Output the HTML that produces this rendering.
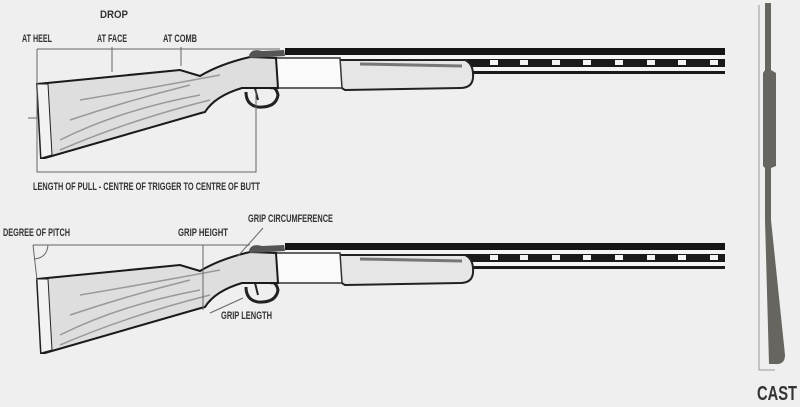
<!DOCTYPE html>
<html><head><meta charset="utf-8"><style>
html,body{margin:0;padding:0;background:#efefef;}
svg{display:block}
text{font-family:"Liberation Sans Narrow","Liberation Sans",sans-serif;font-weight:bold;fill:#333;}
</style></head><body>
<svg width="800" height="407" viewBox="0 0 800 407" xmlns="http://www.w3.org/2000/svg">
<defs>
<g id="gun">
  <rect x="285" y="48" width="440" height="7" fill="#151515"/>
  <rect x="285" y="55" width="440" height="4" fill="#f4f4f4"/>
  <rect x="285" y="59" width="440" height="8" fill="#1a1a1a"/>
  <g fill="#f4f4f4">
    <rect x="490" y="60" width="8" height="5"/><rect x="520" y="60" width="8" height="5"/><rect x="552" y="60" width="8" height="5"/>
    <rect x="583" y="60" width="8" height="5"/><rect x="615" y="60" width="8" height="5"/><rect x="647" y="60" width="8" height="5"/><rect x="678" y="60" width="8" height="5"/><rect x="710" y="60" width="8" height="5"/>
  </g>
  <rect x="285" y="67" width="440" height="4" fill="#f4f4f4"/>
  <rect x="285" y="71" width="440" height="3" fill="#1a1a1a"/>
  <path d="M337,60 L465,60 Q474,64 473,78 Q472,88 460,88 L345,90 Q337,86 337,75 Z" fill="#e6e6e6" stroke="#222" stroke-width="2"/>
  <path d="M360,64 L462,66" stroke="#777" stroke-width="3"/>
  <path d="M272,58 L340,58 L342,88 L276,88 Z" fill="#fafafa" stroke="#333" stroke-width="1.5"/>
  <path d="M246,92 Q246,105 258,107 Q276,108 278,95 Q276,86 270,88" fill="none" stroke="#222" stroke-width="3"/>
  <path d="M255,88 L258,100" stroke="#222" stroke-width="2"/>
  <path d="M37,84 L180,70 L200,76 Q220,64 250,57 L276,58 L278,88 L242,88 Q215,96 205,112 L201,113 L45,158 L41,158 Z" fill="#dedede" stroke="#1a1a1a" stroke-width="2"/>
  <path d="M37,84 L48,84 L52,155 L41,158 Z" fill="#f2f2f2" stroke="#222" stroke-width="1"/>
  <path d="M60,140 Q120,110 200,95 M70,120 Q130,100 190,85 M80,100 Q140,90 220,75 M60,150 Q130,120 210,100" stroke="#999" stroke-width="1.5" fill="none"/>
  <path d="M249,55 Q252,48 262,51 L284,50 L285,56 L250,58 Z" fill="#555"/>
</g>
</defs>

<use href="#gun"/>
<use href="#gun" transform="translate(0,195)"/>

<g stroke="#666" stroke-width="1" fill="none">
  <path d="M37,49 L280,49 M37,49 L37,172 L256,172 L256,90 M112,47 L112,72 M181,47 L181,66 M28,118 L37,118"/>
</g>
<text x="100" y="18" font-size="11" textLength="28" lengthAdjust="spacingAndGlyphs">DROP</text>
<text x="22" y="42" font-size="11" textLength="30" lengthAdjust="spacingAndGlyphs">AT HEEL</text>
<text x="97" y="42" font-size="11" textLength="30" lengthAdjust="spacingAndGlyphs">AT FACE</text>
<text x="163" y="42" font-size="11" textLength="34" lengthAdjust="spacingAndGlyphs">AT COMB</text>
<text x="33" y="190" font-size="11" textLength="227" lengthAdjust="spacingAndGlyphs">LENGTH OF PULL - CENTRE OF TRIGGER TO CENTRE OF BUTT</text>

<g stroke="#666" stroke-width="1" fill="none">
  <path d="M33,245 L250,245 M33,245 L37,280 M203,245 L203,310 M263,228 L238,256 M243,298 L210,313 M48,245 Q47,258 34,259"/>
</g>
<text x="3" y="236" font-size="11" textLength="67" lengthAdjust="spacingAndGlyphs">DEGREE OF PITCH</text>
<text x="178" y="236" font-size="11" textLength="50" lengthAdjust="spacingAndGlyphs">GRIP HEIGHT</text>
<text x="248" y="222" font-size="11" textLength="85" lengthAdjust="spacingAndGlyphs">GRIP CIRCUMFERENCE</text>
<text x="221" y="319" font-size="11" textLength="51" lengthAdjust="spacingAndGlyphs">GRIP LENGTH</text>

<path d="M759,5 L759,370 L775,370" fill="none" stroke="#999" stroke-width="1"/>
<path d="M765,3 L771,3 L771,70 L776,73 L776,166 L771,168 L771,220 L785,355 Q785,365 775,364 L769,364 L765,220 L765,168 L763,166 L763,73 L765,70 Z" fill="#66655f"/>
<text x="757" y="400" font-size="20" textLength="40" lengthAdjust="spacingAndGlyphs">CAST</text>
</svg>
</body></html>
